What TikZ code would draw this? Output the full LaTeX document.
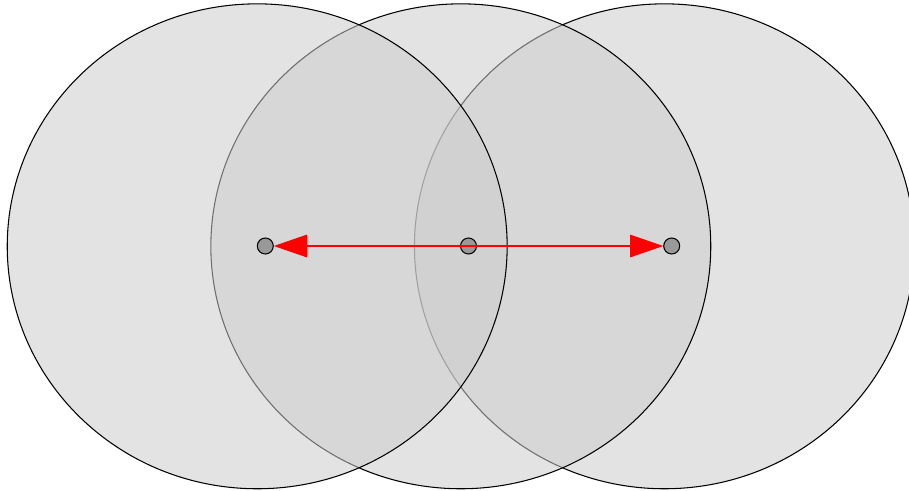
\documentclass[tikz,border=0pt]{standalone}
\usetikzlibrary{arrows.meta,shapes.geometric}
\definecolor{Shade}{HTML}{CCCCCC}
\definecolor{Pin}{HTML}{999999}
\definecolor{Ray}{HTML}{FF0000}
\tikzset{
  disc/.style={
    ellipse, draw=black, line width=0.6pt, fill=Shade, fill opacity=0.54,
    minimum width=10cm, minimum height=9.7cm, inner sep=0pt
  },
  pin/.style={
    circle, draw=black, line width=0.6pt, fill=Pin,
    minimum size=0.32cm, inner sep=0pt
  },
  ray/.style={-{Triangle[length=0.66cm,width=0.45cm]}, line width=0.6pt, draw=Ray}
}
\begin{document}
\begin{tikzpicture}[x=0.02cm,y=-0.02cm]
        \useasboundingbox (0,0) rectangle (909,490);
        \node[disc] (rdisc) at (664.4,246.3) {};
        \node[disc] (mdisc) at (460.8,246.3) {};
        \node[disc] (ldisc) at (257.2,246.3) {};
        \node[pin] (lpin) at (265.3,246) {};
        \node[pin] (mpin) at (468.5,246) {};
        \node[pin] (rpin) at (671.7,246) {};
        \draw[ray] (mpin.center)--(lpin);
        \draw[ray] (mpin.center)--(rpin);
      \end{tikzpicture}
\end{document}
